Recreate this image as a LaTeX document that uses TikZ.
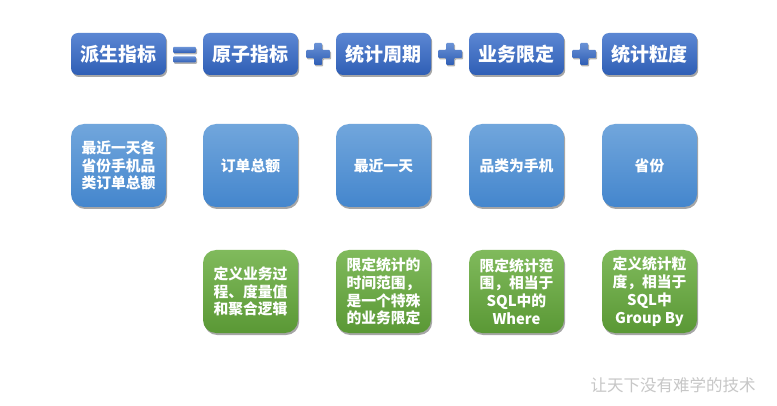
\documentclass[tikz,border=0pt]{standalone}
\usepackage{fontspec}
\setmainfont{Noto Sans CJK SC}
\usetikzlibrary{shadows}
\definecolor{headTop}{HTML}{5B87D3}
\definecolor{headBot}{HTML}{2F5EB5}
\definecolor{midTop}{HTML}{71A6DC}
\definecolor{midBot}{HTML}{4486CD}
\definecolor{noteTop}{HTML}{80BA5C}
\definecolor{noteBot}{HTML}{5A9835}
\definecolor{signTop}{HTML}{6A92D6}
\definecolor{signBot}{HTML}{2F5EB5}
\begin{document}
\begin{tikzpicture}[x=1pt,y=-1pt,
  base/.style={text=white, align=center, inner sep=0pt,
    drop shadow={shadow xshift=1.2pt, shadow yshift=-2pt, opacity=0.35, fill=black}},
  head/.style={base, rounded corners=7pt, minimum width=95pt, minimum height=42pt,
    top color=headTop, bottom color=headBot, font=\bfseries\fontsize{19}{21}\selectfont},
  mid/.style={base, rounded corners=13pt, minimum width=95pt, minimum height=83pt,
    top color=midTop, bottom color=midBot, font=\bfseries\fontsize{14.8}{17.5}\selectfont},
  note/.style={base, rounded corners=13pt, minimum width=95pt, minimum height=83pt,
    top color=noteTop, bottom color=noteBot, font=\bfseries\fontsize{14.8}{17.8}\selectfont},
  opsign/.style={top color=signTop, bottom color=signBot, rounded corners=1pt,
    drop shadow={shadow xshift=1pt, shadow yshift=-1.5pt, opacity=0.3, fill=black}}
]
\fill[white] (0,0) rectangle (777,406);
\useasboundingbox (0,0) rectangle (777,406);

% top row
\node[head] (h1) at (118.5,54) {派生指标};
\node[head] (h2) at (250.5,54) {原子指标};
\node[head] (h3) at (383.5,54) {统计周期};
\node[head] (h4) at (516.5,54) {业务限定};
\node[head] (h5) at (649.5,54) {统计粒度};

% equals sign
\shade[opsign] (173,47) rectangle (196,53);
\shade[opsign] (173,56.5) rectangle (196,62.5);

% plus signs
\foreach \cx in {318,450,584}{
  \shade[opsign] (\cx-12,54-4) -- (\cx-4,54-4) -- (\cx-4,54-11) -- (\cx+4,54-11)
    -- (\cx+4,54-4) -- (\cx+12,54-4) -- (\cx+12,54+4) -- (\cx+4,54+4)
    -- (\cx+4,54+11) -- (\cx-4,54+11) -- (\cx-4,54+4) -- (\cx-12,54+4) -- cycle;
}

% middle row
\node[mid] (m1) at (118.5,165.5) {最近一天各\\省份手机品\\类订单总额};
\node[mid] (m2) at (250.5,165.5) {订单总额};
\node[mid] (m3) at (383.5,165.5) {最近一天};
\node[mid] (m4) at (516.5,165.5) {品类为手机};
\node[mid] (m5) at (649.5,165.5) {省份};

% bottom row
\node[note] (n2) at (250.5,291.5) {定义业务过\\程、度量值\\和聚合逻辑};
\node[note] (n3) at (383.5,291.5) {限定统计的\\时间范围，\\是一个特殊\\的业务限定};
\node[note] (n4) at (516.5,291.5) {限定统计范\\围，相当于\\SQL中的\\Where};
\node[note] (n5) at (649.5,291.5) {定义统计粒\\度，相当于\\SQL中\\Group By};

% watermark
\node[text=black!22, font=\fontsize{16.5}{18}\selectfont, inner sep=0pt] (wm) at (673,385) {让天下没有难学的技术};
\end{tikzpicture}
\end{document}
